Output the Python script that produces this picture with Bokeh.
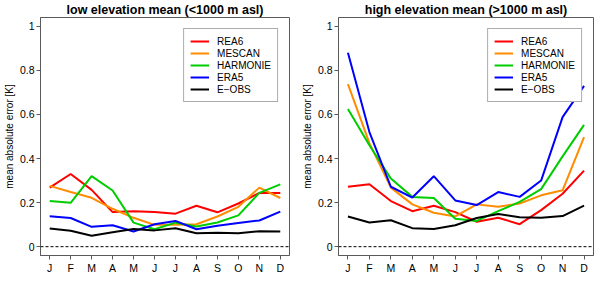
from bokeh.plotting import figure
from bokeh.layouts import row
from bokeh.models import Range1d, FixedTicker, Span, Legend, LegendItem
from bokeh.embed import file_html
from bokeh.resources import INLINE

MONTHS = [1, 2, 3, 4, 5, 6, 7, 8, 9, 10, 11, 12]
MONTH_LABELS = ["J", "F", "M", "A", "M", "J", "J", "A", "S", "O", "N", "D"]
YTICKS = [0, 0.2, 0.4, 0.6, 0.8, 1]
YTICK_LABELS = ["0", "0.2", "0.4", "0.6", "0.8", "1"]

SERIES_NAMES = ["REA6", "MESCAN", "HARMONIE", "ERA5", "E\u2212OBS"]
SERIES_COLORS = ["#ff0000", "#ff8c00", "#00cd00", "#0000ff", "#000000"]

LOW_REA6 = [0.268, 0.330, 0.258, 0.157, 0.161, 0.157, 0.150, 0.186, 0.156, 0.196, 0.244, 0.244]
LOW_MESCAN = [0.276, 0.248, 0.222, 0.172, 0.131, 0.099, 0.099, 0.102, 0.137, 0.181, 0.268, 0.221]
LOW_HARMONIE = [0.207, 0.199, 0.320, 0.255, 0.109, 0.079, 0.109, 0.092, 0.110, 0.142, 0.244, 0.283]
LOW_ERA5 = [0.138, 0.130, 0.090, 0.097, 0.069, 0.102, 0.117, 0.079, 0.095, 0.108, 0.119, 0.159]
LOW_EOBS = [0.083, 0.072, 0.050, 0.065, 0.080, 0.074, 0.084, 0.061, 0.063, 0.061, 0.070, 0.069]

HIGH_REA6 = [0.272, 0.283, 0.207, 0.161, 0.186, 0.157, 0.113, 0.131, 0.102, 0.166, 0.240, 0.345]
HIGH_MESCAN = [0.738, 0.470, 0.268, 0.192, 0.154, 0.137, 0.192, 0.181, 0.196, 0.233, 0.256, 0.497]
HIGH_HARMONIE = [0.625, 0.460, 0.309, 0.226, 0.221, 0.127, 0.117, 0.161, 0.203, 0.261, 0.410, 0.553]
HIGH_ERA5 = [0.880, 0.520, 0.272, 0.223, 0.320, 0.210, 0.189, 0.248, 0.226, 0.300, 0.588, 0.730]
HIGH_EOBS = [0.137, 0.110, 0.120, 0.084, 0.080, 0.097, 0.130, 0.148, 0.134, 0.131, 0.139, 0.186]

FRAME = "#5a5a5a"
FONT = "Liberation Sans"


def make_panel(title, series, width, border_left, border_right):
    p = figure(width=width, height=276, output_backend="svg", toolbar_location=None,
               x_range=Range1d(0.56, 12.44), y_range=Range1d(-0.04, 1.04),
               min_border_left=border_left, min_border_right=border_right,
               min_border_top=0, min_border_bottom=0)
    p.title.text = title
    p.title.align = "center"
    p.title.text_font = FONT
    p.title.text_font_size = "12.5px"
    p.title.text_font_style = "bold"
    p.title.text_color = "black"
    p.title.standoff = 1
    p.title.offset = 0
    p.grid.visible = False
    p.outline_line_color = FRAME
    p.outline_line_width = 1
    p.background_fill_color = "white"
    p.border_fill_color = "white"

    for ax in (p.xaxis[0], p.yaxis[0]):
        ax.axis_line_color = FRAME
        ax.major_tick_line_color = FRAME
        ax.major_tick_out = 4
        ax.major_tick_in = 0
        ax.minor_tick_line_color = None
        ax.major_label_text_font = FONT
        ax.major_label_text_font_size = "10.5px"
        ax.major_label_text_color = "black"
        ax.major_label_standoff = 2

    p.xaxis.ticker = FixedTicker(ticks=MONTHS)
    p.xaxis.major_label_overrides = dict(zip(MONTHS, MONTH_LABELS))
    p.yaxis.ticker = FixedTicker(ticks=YTICKS)
    p.yaxis.major_label_overrides = dict(zip(YTICKS, YTICK_LABELS))
    p.yaxis.major_label_orientation = "horizontal"
    p.yaxis.axis_label = "mean absolute error [K]"
    p.yaxis.axis_label_text_font = FONT
    p.yaxis.axis_label_text_font_size = "10px"
    p.yaxis.axis_label_text_font_style = "normal"
    p.yaxis.axis_label_text_color = "black"
    p.yaxis.axis_label_standoff = 2

    p.add_layout(Span(location=0, dimension="width", line_color="black",
                      line_width=1, line_dash="3 2"))

    items = []
    for name, color, vals in zip(SERIES_NAMES, SERIES_COLORS, series):
        r = p.line(MONTHS, vals, line_color=color, line_width=2)
        items.append(LegendItem(label=name, renderers=[r]))

    legend = Legend(items=items, location="top_right", margin=11,
                    padding=6, spacing=0, glyph_width=19, glyph_height=12,
                    label_height=12, label_standoff=8,
                    label_text_font=FONT, label_text_font_size="10px",
                    label_text_color="black",
                    border_line_color=FRAME, border_line_width=1,
                    background_fill_color="white", background_fill_alpha=1)
    p.add_layout(legend)
    return p


p1 = make_panel("low elevation mean (<1000 m asl)",
                [LOW_REA6, LOW_MESCAN, LOW_HARMONIE, LOW_ERA5, LOW_EOBS],
                296, 33, 7)
p2 = make_panel("high elevation mean (>1000 m asl)",
                [HIGH_REA6, HIGH_MESCAN, HIGH_HARMONIE, HIGH_ERA5, HIGH_EOBS],
                298, 42, 1)

p = row(p1, p2, spacing=0)
open("out.html", "w").write(file_html(p, INLINE))
